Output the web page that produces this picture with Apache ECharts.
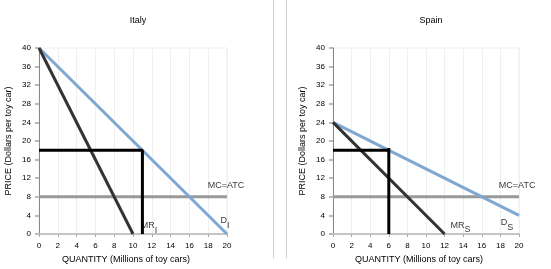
<!DOCTYPE html>
<html>
<head>
<meta charset="utf-8">
<script src="https://cdn.jsdelivr.net/npm/echarts@6/dist/echarts.min.js"></script>
<style>
  html, body { margin: 0; padding: 0; background: #fff; }
  #main { width: 551px; height: 269px; }
</style>
</head>
<body>
<div id="main"></div>
<script>
// chart data
var panelTitles = ['Italy', 'Spain'];
var italyDemand = [[0, 40], [20, 0]];
var italyMR = [[0, 40], [10, 0]];
var italyMC = [[0, 8], [20, 8]];
var italyPrice = [[0, 18], [11, 18], [11, 0]];
var spainDemand = [[0, 24], [20, 4]];
var spainMR = [[0, 24], [12, 0]];
var spainMC = [[0, 8], [20, 8]];
var spainPrice = [[0, 18], [6, 18], [6, 18.5], [6, 0]];
// curve labels: [x, y, main, sub]
var italyLabels = [[19.9, 10.5, 'MC=ATC', ''], [19.8, 2.8, 'D', 'I'], [11.7, 1.8, 'MR', 'I']];
var spainLabels = [[19.8, 10.5, 'MC=ATC', ''], [18.7, 2.4, 'D', 'S'], [13.7, 1.9, 'MR', 'S']];

var font = 'Liberation Sans';
var myChart = echarts.init(document.getElementById('main'));

function xAx(i) {
    return {
        type: 'value', gridIndex: i, min: 0, max: 20, interval: 2,
        name: 'QUANTITY (Millions of toy cars)', nameLocation: 'middle', nameGap: 21,
        nameTextStyle: { fontFamily: font, fontSize: 9, color: '#000', padding: [0, 14, 0, 0] },
        axisLine: { lineStyle: { color: '#c4c4c4', width: 2 } },
        axisTick: { show: true, length: 3, lineStyle: { color: '#aaa' } },
        axisLabel: { fontFamily: font, fontSize: 8, color: '#000', margin: 8 },
        splitLine: { show: true, lineStyle: { color: '#efefef' } }
    };
}
function yAx(i) {
    return {
        type: 'value', gridIndex: i, min: 0, max: 40, interval: 4,
        name: 'PRICE (Dollars per toy car)', nameLocation: 'middle', nameGap: 26,
        nameTextStyle: { fontFamily: font, fontSize: 9, color: '#000' },
        axisLine: { show: true, lineStyle: { color: '#888', width: 1 } },
        axisTick: { show: true, length: 4, lineStyle: { color: '#bbb', width: 2 } },
        axisLabel: { fontFamily: font, fontSize: 8, color: '#000', margin: 8 },
        splitLine: { show: false }
    };
}
function line(i, name, data, color, width) {
    return {
        name: name, type: 'line', xAxisIndex: i, yAxisIndex: i, data: data,
        symbol: 'none', silent: true, animation: false,
        lineStyle: { color: color, width: width }
    };
}
function labels(i, data) {
    return {
        type: 'scatter', xAxisIndex: i, yAxisIndex: i, symbolSize: 0, silent: true,
        animation: false,
        data: data.map(function (d) { return { value: [d[0], d[1]], main: d[2], sub: d[3] }; }),
        label: {
            show: true, position: 'inside',
            formatter: function (p) {
                return '{m|' + p.data.main + '}' + (p.data.sub ? '{s|' + p.data.sub + '}' : '');
            },
            rich: {
                m: { fontFamily: font, fontSize: 9, color: '#000' },
                s: { fontFamily: font, fontSize: 9, color: '#000', padding: [9, 0, 0, 0] }
            }
        }
    };
}

var option = {
    backgroundColor: '#fff',
    title: [
        { text: panelTitles[0], left: 133, top: 11, textAlign: 'center',
          textStyle: { fontFamily: font, fontSize: 9, fontWeight: 'normal', color: '#000' } },
        { text: panelTitles[1], left: 426, top: 11, textAlign: 'center',
          textStyle: { fontFamily: font, fontSize: 9, fontWeight: 'normal', color: '#000' } }
    ],
    grid: [
        { left: 39, right: 324, top: 48, bottom: 35, show: true, borderColor: '#efefef', borderWidth: 1 },
        { left: 333, right: 32, top: 48, bottom: 35, show: true, borderColor: '#efefef', borderWidth: 1 }
    ],
    xAxis: [xAx(0), xAx(1)],
    yAxis: [yAx(0), yAx(1)],
    graphic: [
        { type: 'line', shape: { x1: 273.5, y1: 0, x2: 273.5, y2: 258 }, style: { stroke: '#d0d0d0', lineWidth: 1 } },
        { type: 'line', shape: { x1: 286.5, y1: 0, x2: 286.5, y2: 258 }, style: { stroke: '#d0d0d0', lineWidth: 1 } }
    ],
    series: [
        line(0, 'MC', italyMC, '#999999', 3),
        line(0, 'D', italyDemand, '#7ea7d3', 3),
        line(0, 'MR', italyMR, '#333333', 3),
        line(0, 'Price', italyPrice, '#000000', 3),
        labels(0, italyLabels),
        line(1, 'MC', spainMC, '#999999', 3),
        line(1, 'D', spainDemand, '#7ea7d3', 3),
        line(1, 'MR', spainMR, '#333333', 3),
        line(1, 'Price', spainPrice, '#000000', 3),
        labels(1, spainLabels)
    ]
};
myChart.setOption(option);
</script>
</body>
</html>
